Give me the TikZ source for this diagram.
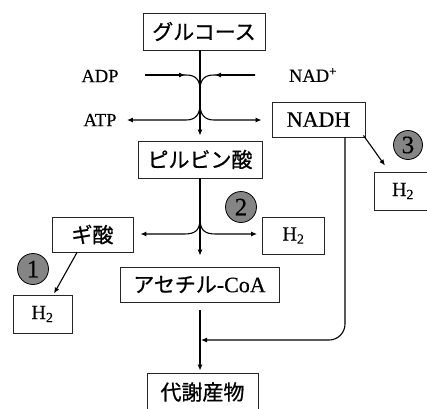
\documentclass[tikz,border=0pt]{standalone}
\usepackage{fontspec}
\setmainfont{Liberation Serif}[FakeBold=0.4,AutoFakeBold=0.4]
\newfontfamily\jpfont{Noto Sans CJK JP}[FakeBold=0.8,AutoFakeBold=0.8]
\usetikzlibrary{arrows.meta,calc}
\begin{document}
\begin{tikzpicture}[x=1pt,y=-1pt,
  box/.style={draw=black!85, line width=0.9pt, inner sep=0pt, minimum height=37pt},
  jp/.style={font=\jpfont\bfseries\fontsize{21}{21}\selectfont},
  lat/.style={font=\fontsize{18.5}{18.5}\selectfont},
  hh/.style={font=\fontsize{20}{20}\selectfont},
  ln/.style={line width=1.1pt},
  arr/.style={ln, -{Latex[length=6pt,width=5pt]}},
  num/.style={circle, draw=black, line width=0.8pt, fill=black!48, minimum size=31pt, inner sep=0pt, font=\fontsize{25}{25}\selectfont}
]
\useasboundingbox (0,0) rectangle (427,408);
% nodes
\node[box,jp,minimum width=122pt] (gl) at (204,31.5) {グルコース};
\node[lat] (adp) at (100,76) {ADP};
\node[lat] (atp) at (100,120) {ATP};
\node[lat] (nad) at (313,75) {NAD\textsuperscript{+}};
\node[box,font=\fontsize{22}{22}\selectfont,minimum width=93pt,minimum height=35pt] (nadh) at (318.5,119.5) {NADH};
\node[box,jp,minimum width=124pt] (pyr) at (200,159.5) {ピルビン酸};
\node[box,jp,minimum width=81pt,minimum height=35pt] (gis) at (92.5,234.5) {ギ酸};
\node[box,hh,minimum width=62pt] (h2b) at (293.5,235.5) {H\textsubscript{2}};
\node[box,hh,minimum width=59pt,minimum height=38pt] (h2a) at (42.5,314) {H\textsubscript{2}};
\node[box,hh,minimum width=58pt,minimum height=38pt] (h2c) at (403,191) {H\textsubscript{2}};
\node[box,minimum width=159pt,minimum height=35pt] (aco) at (199.5,284.5) {{\jpfont\bfseries\fontsize{21}{21}\selectfont アセチル}{\fontsize{22}{22}\selectfont -CoA}};
\node[box,jp,minimum width=111pt,minimum height=38pt] (met) at (202.5,392) {代謝産物};
\node[num] (c1) at (33,269) {1};
\node[num] (c2) at (241,207) {2};
\node[num,minimum size=29pt] (c3) at (408,145) {3};
% coordinates
\coordinate (adp0) at (145,75);
\coordinate (nad0) at (255,75);
\coordinate (mrg) at (200,340);
% glucose -> pyruvate
\draw[arr,shorten >=5pt] (gl.south -| pyr.north) -- (pyr.north);
% ADP / NAD+ in
\draw[ln] (adp0) -- (186,75) .. controls (196,75) and (200,80) .. (200,90);
\draw[arr] (adp0) -- (185,75);
\draw[ln] (nad0) -- (214,75) .. controls (204,75) and (200,80) .. (200,90);
\draw[arr] (nad0) -- (215,75);
% ATP / NADH out
\draw[arr,shorten >=7pt] (200,104) .. controls (200,114) and (196,120) .. (186,120) -- (atp.east |- 0,120);
\draw[arr,shorten >=10pt] (200,104) .. controls (200,114) and (204,120) .. (214,120) -- (nadh.west |- 0,120);
% pyruvate -> acetyl-CoA, formate, H2
\draw[arr,shorten >=11pt] (pyr.south) -- (pyr.south |- aco.north);
\draw[arr,shorten >=7pt] (200,218) .. controls (200,230) and (196,234) .. (184,234) -- (gis.east |- 0,234);
\draw[arr,shorten >=5pt] (200,218) .. controls (200,230) and (204,234) .. (216,234) -- (h2b.west |- 0,234);
% formate -> H2
\draw[arr] ([xshift=-15.5pt]gis.south) -- ([xshift=11.5pt,yshift=1pt]h2a.north);
% NADH -> H2
\draw[arr] ([xshift=-2pt,yshift=2pt]nadh.south east) -- ([xshift=-18pt,yshift=6pt]h2c.north);
% NADH -> merge
\draw[arr,rounded corners=16pt,shorten >=1pt] ([xshift=26.5pt]nadh.south) |- (mrg);
% acetyl-CoA -> metabolites
\draw[arr,shorten <=8pt,shorten >=2pt] (aco.south -| mrg) -- (met.north -| mrg);
\end{tikzpicture}
\end{document}
